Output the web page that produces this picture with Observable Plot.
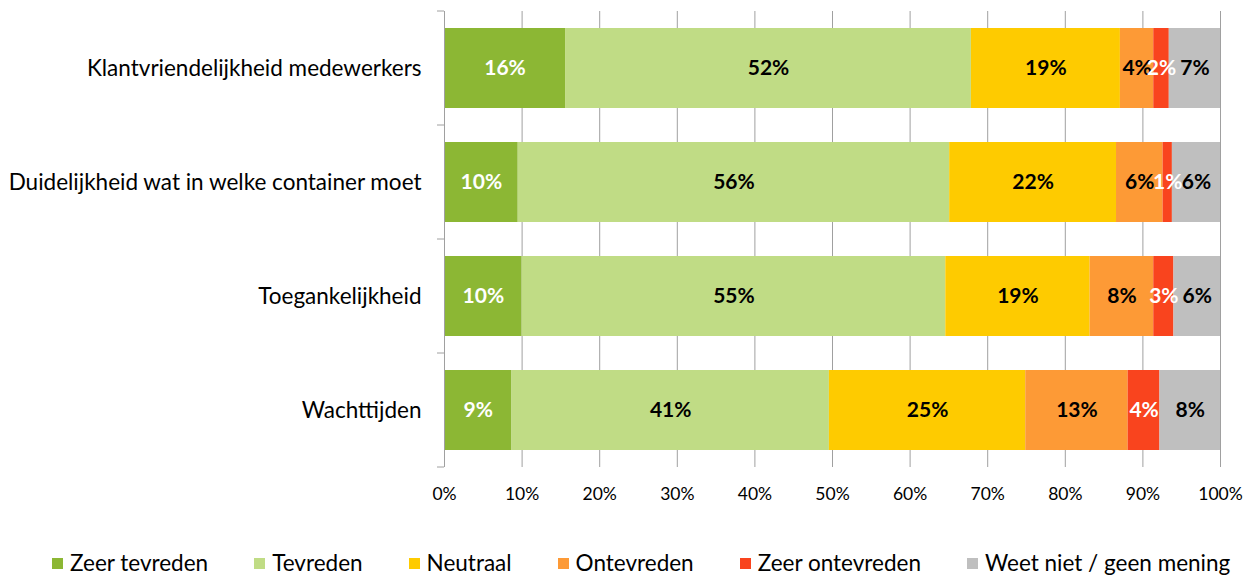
<!DOCTYPE html>
<html>
<head>
<meta charset="utf-8">
<script src="https://cdn.jsdelivr.net/npm/d3@7"></script>
<script src="https://cdn.jsdelivr.net/npm/@observablehq/plot@0.6"></script>
<style>
  body { margin: 0; background: #fff; font-family: Lato, "DejaVu Sans", sans-serif; }
  #legend { display: flex; gap: 46px; margin-left: 52px; margin-top: 20px; font-size: 22.5px; line-height: 26px; color: #000; }
  #legend .item { display: flex; align-items: center; gap: 7px; }
  #legend .sw { width: 11px; height: 11px; display: inline-block; }
</style>
</head>
<body>
<div id="chart"></div>
<div id="legend"></div>
<script>
const questions = [
  "Klantvriendelijkheid medewerkers",
  "Duidelijkheid wat in welke container moet",
  "Toegankelijkheid",
  "Wachttijden"
];
const categories = ["Zeer tevreden", "Tevreden", "Neutraal", "Ontevreden", "Zeer ontevreden", "Weet niet / geen mening"];
const zeerTevreden   = [15.6, 9.5, 10.0, 8.7];
const tevreden       = [52.3, 55.6, 54.6, 40.9];
const neutraal       = [19.2, 21.5, 18.6, 25.3];
const ontevreden     = [4.3, 6.0, 8.2, 13.2];
const zeerOntevreden = [2.0, 1.2, 2.6, 4.1];
const weetNiet       = [6.6, 6.2, 6.0, 7.8];
const xTicks = [0, 10, 20, 30, 40, 50, 60, 70, 80, 90, 100];

const colors = ["#8cb734", "#c0dc85", "#fecb00", "#fd9a36", "#f9441e", "#bfbfbf"];
const labelColors = ["#fff", "#000", "#000", "#000", "#fff", "#000"];

const series = [zeerTevreden, tevreden, neutraal, ontevreden, zeerOntevreden, weetNiet];
const data = [];
categories.forEach((c, ci) => {
  questions.forEach((q, qi) => {
    data.push({question: q, category: c, value: series[ci][qi], label: labelColors[ci]});
  });
});

const chart = Plot.plot({
  width: 1254,
  height: 530,
  marginLeft: 444,
  marginRight: 34,
  marginTop: 11,
  marginBottom: 63,
  style: {fontFamily: "Lato, sans-serif", color: "#000", background: "#fff"},
  x: {domain: [0, 100], ticks: xTicks, tickFormat: d => d + "%", label: null},
  y: {domain: questions, paddingInner: 0.3, paddingOuter: 0.15, label: null},
  color: {domain: categories, range: colors},
  marks: [
    Plot.ruleX(xTicks.slice(1), {stroke: "#a0a0a0", strokeWidth: 1}),
    Plot.barX(data, {x: "value", y: "question", fill: "category", order: categories}),
    Plot.ruleX([0], {stroke: "#a0a0a0", strokeWidth: 1}),
    Plot.text(data, Plot.stackX({
      x: "value", y: "question", z: "category", order: categories,
      text: d => Math.round(d.value) + "%",
      fill: "label", fontWeight: "bold", fontSize: 21
    })),
    Plot.axisX({ticks: xTicks, tickFormat: d => d + "%", tickSize: 0, tickPadding: 20, fontSize: 17.5, label: null}),
    Plot.axisY({tickSize: 0, tickPadding: 23, fontSize: 22.5, label: null})
  ]
});

// category boundary ticks on the y axis (Excel style), positioned from the library's y scale
const ys = chart.scale("y");
const xs = chart.scale("x");
const off = (ys.step - ys.bandwidth) / 2;
const bounds = questions.map(q => ys.apply(q) - off);
bounds.push(ys.apply(questions[questions.length - 1]) + ys.bandwidth + off);
const x0 = xs.apply(0);
d3.select(chart).append("g")
  .selectAll("line").data(bounds).join("line")
  .attr("x1", x0 - 7).attr("x2", x0)
  .attr("y1", d => d).attr("y2", d => d)
  .attr("stroke", "#a0a0a0");

document.getElementById("chart").appendChild(chart);

const legend = d3.select("#legend");
categories.forEach((c, i) => {
  const it = legend.append("div").attr("class", "item");
  it.append("span").attr("class", "sw").style("background", colors[i]);
  it.append("span").text(c);
});
</script>
</body>
</html>
